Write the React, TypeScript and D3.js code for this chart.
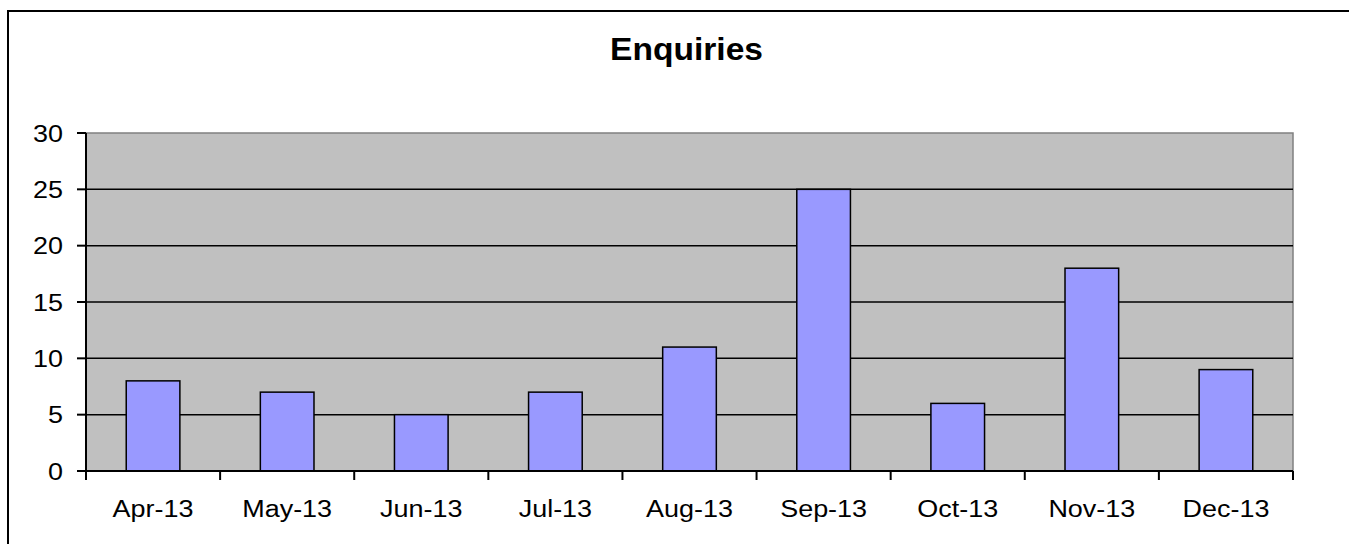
import React from 'react';
import * as d3 from 'd3';

const months = ['Apr-13', 'May-13', 'Jun-13', 'Jul-13', 'Aug-13', 'Sep-13', 'Oct-13', 'Nov-13', 'Dec-13'];
const enquiries = [8, 7, 5, 7, 11, 25, 6, 18, 9];
const yTicks = [0, 5, 10, 15, 20, 25, 30];

const W = 1349;
const H = 544;
const plot = { left: 86, top: 133, right: 1293, bottom: 471 };
const font = '"Liberation Sans", Arial, sans-serif';
// the reference text is a little wider than plain Arial
const stretch = 1.1;

const App: React.FC = () => {
    const x = d3.scaleBand<string>()
        .domain(months)
        .range([plot.left, plot.right])
        .padding(0);

    const y = d3.scaleLinear()
        .domain([0, 30])
        .range([plot.bottom, plot.top]);

    // Excel style gap width 150%
    const barW = x.bandwidth() / 2.5;
    const boundaries = months.map(m => x(m) as number).concat([plot.right]);

    return (
        <div style={{ position: 'fixed', left: 0, top: 0, width: W, height: H, overflow: 'hidden', background: '#fff' }}>
            <svg width={W} height={H} style={{ display: 'block' }}>
                <rect x={0} y={0} width={W} height={H} fill="#fff" />
                {/* outer chart border, only top and left are in view */}
                <line x1={8} x2={W + 5} y1={11} y2={11} stroke="#000" strokeWidth={2} />
                <line x1={8} x2={8} y1={10} y2={H + 5} stroke="#000" strokeWidth={2} />

                <text
                    transform={`translate(${(plot.left + plot.right) / 2 - 3},60) scale(1.05,1)`}
                    textAnchor="middle"
                    fontFamily={font}
                    fontWeight="bold"
                    fontSize={32}
                >
                    Enquiries
                </text>

                {/* plot area */}
                <rect
                    x={plot.left}
                    y={plot.top}
                    width={plot.right - plot.left}
                    height={plot.bottom - plot.top}
                    fill="#c0c0c0"
                    stroke="#808080"
                    strokeWidth={1.5}
                />

                {yTicks.filter(t => t > 0 && t < 30).map(t => (
                    <line key={'g' + t} x1={plot.left} x2={plot.right} y1={y(t)} y2={y(t)} stroke="#000" strokeWidth={1.5} />
                ))}

                {enquiries.map((v, i) => {
                    const cx = (x(months[i]) as number) + x.bandwidth() / 2;
                    return (
                        <rect
                            key={months[i]}
                            x={cx - barW / 2}
                            y={y(v)}
                            width={barW}
                            height={y(0) - y(v)}
                            fill="#9999ff"
                            stroke="#000"
                            strokeWidth={1.5}
                        />
                    );
                })}

                {/* y axis */}
                <line x1={plot.left} x2={plot.left} y1={plot.top} y2={plot.bottom} stroke="#000" strokeWidth={2} />
                {yTicks.map(t => (
                    <g key={'y' + t}>
                        <line x1={77} x2={plot.left} y1={y(t)} y2={y(t)} stroke="#000" strokeWidth={2} />
                        <text
                            transform={`translate(63,${y(t)}) scale(${stretch},1)`}
                            dy="0.36em"
                            textAnchor="end"
                            fontFamily={font}
                            fontSize={24.5}
                        >
                            {t}
                        </text>
                    </g>
                ))}

                {/* x axis */}
                <line x1={plot.left} x2={plot.right} y1={plot.bottom} y2={plot.bottom} stroke="#000" strokeWidth={2} />
                {boundaries.map((b, i) => (
                    <line key={'xt' + i} x1={b} x2={b} y1={plot.bottom} y2={480} stroke="#000" strokeWidth={2} />
                ))}
                {months.map(m => (
                    <text
                        key={'xl' + m}
                        transform={`translate(${(x(m) as number) + x.bandwidth() / 2},517) scale(${stretch},1)`}
                        textAnchor="middle"
                        fontFamily={font}
                        fontSize={24.5}
                    >
                        {m}
                    </text>
                ))}
            </svg>
        </div>
    );
};

export default App;
